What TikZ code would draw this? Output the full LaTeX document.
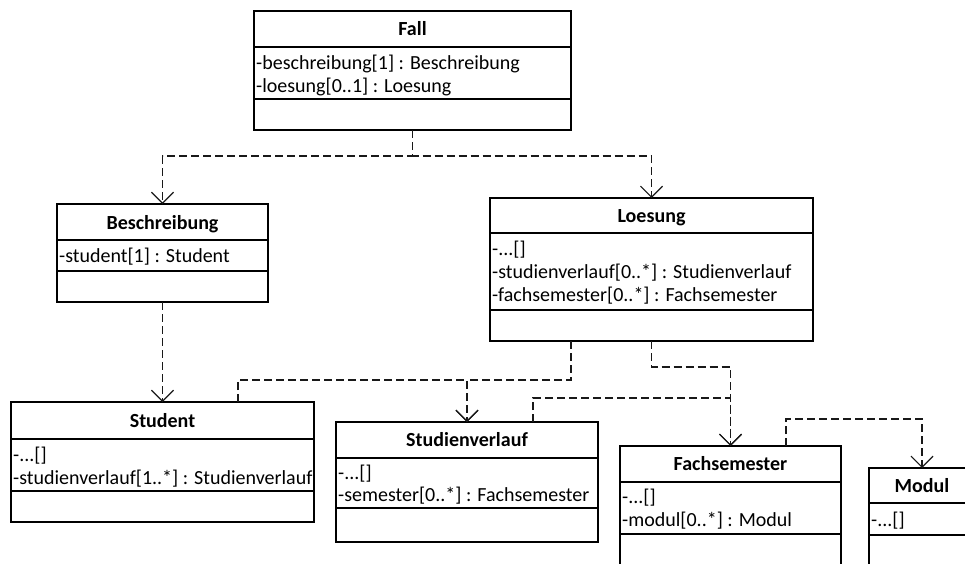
\documentclass[tikz,border=0pt]{standalone}
\usepackage{fontspec}
\setmainfont{Carlito}
\usetikzlibrary{arrows.meta}

\tikzset{
  classbox/.style={draw=black, line width=1.6pt, inner sep=0pt, outer sep=0pt,
    anchor=north west, fill=white},
  divider/.style={draw=black, line width=1.6pt},
  classtitle/.style={font=\fontsize{20}{24}\selectfont\bfseries, anchor=base, inner sep=0pt},
  attr/.style={font=\fontsize{20}{24}\selectfont, anchor=base west, inner sep=0pt},
  link/.style={draw=black!90, line width=1.25pt, dash pattern=on 8pt off 4pt},
  dep/.style={link, -{Straight Barb[length=11pt,width=22pt,line width=1.2pt]}}
}

\begin{document}
\begin{tikzpicture}[x=1pt,y=-1pt]
  \useasboundingbox (0,0) rectangle (965,563);
  \fill[white] (0,0) rectangle (965,563);
  \clip (0,0) rectangle (965,563);

  % class boxes
  \node[classbox, minimum width=317pt, minimum height=119pt] (fall) at (254,11) {};
  \node[classbox, minimum width=211pt, minimum height=98pt] (beschreibung) at (57,204) {};
  \node[classbox, minimum width=323pt, minimum height=143pt] (loesung) at (490,198) {};
  \node[classbox, minimum width=303pt, minimum height=120pt] (student) at (11,402) {};
  \node[classbox, minimum width=262pt, minimum height=120pt] (studienverlauf) at (336,422) {};
  \node[classbox, minimum width=221pt, minimum height=122pt] (fachsemester) at (620,446) {};
  \node[classbox, minimum width=106pt, minimum height=100pt] (modul) at (869,468) {};

  % compartment dividers
  \foreach \n/\a/\b in {fall/36/88, beschreibung/36/67, loesung/35/112,
                        student/37/89, studienverlauf/36/86,
                        fachsemester/36/88, modul/35/67}{
    \draw[divider] ([yshift=-\a pt]\n.north west) -- ([yshift=-\a pt]\n.north east);
    \draw[divider] ([yshift=-\b pt]\n.north west) -- ([yshift=-\b pt]\n.north east);
  }

  % class names
  \node[classtitle] (fall-t) at (412.5,35) {Fall};
  \node[classtitle] (beschreibung-t) at (162.5,229) {Beschreibung};
  \node[classtitle] (loesung-t) at (651.5,222) {Loesung};
  \node[classtitle] (student-t) at (162.5,427) {Student};
  \node[classtitle] (studienverlauf-t) at (467,446) {Studienverlauf};
  \node[classtitle] (fachsemester-t) at (730.5,470) {Fachsemester};
  \node[classtitle] (modul-t) at (922,492) {Modul};

  % attributes
  \node[attr] (fall-a1) at (256,69) {-beschreibung[1] : Beschreibung};
  \node[attr] (fall-a2) at (256,92) {-loesung[0..1] : Loesung};
  \node[attr] (beschreibung-a1) at (59,262) {-student[1] : Student};
  \node[attr] (loesung-a1) at (492,255) {-...[]};
  \node[attr] (loesung-a2) at (492,278) {-studienverlauf[0..*] : Studienverlauf};
  \node[attr] (loesung-a3) at (492,301) {-fachsemester[0..*] : Fachsemester};
  \node[attr] (student-a1) at (13,461) {-...[]};
  \node[attr] (student-a2) at (13,484) {-studienverlauf[1..*] : Studienverlauf};
  \node[attr] (studienverlauf-a1) at (338,479) {-...[]};
  \node[attr] (studienverlauf-a2) at (338,501) {-semester[0..*] : Fachsemester};
  \node[attr] (fachsemester-a1) at (622,503) {-...[]};
  \node[attr] (fachsemester-a2) at (622,526) {-modul[0..*] : Modul};
  \node[attr] (modul-a1) at (871,526) {-...[]};

  % dependencies
  \draw[dep] (fall.south) -- ++(0,26) -| (beschreibung.north);
  \draw[dep] (fall.south) -- ++(0,26) -| (loesung.north);
  \draw[dep] (beschreibung.south) -- (student.north);
  \draw[dep] ([xshift=81pt]loesung.south west) -- ++(0,39) -| (studienverlauf.north);
  \draw[dep] ([xshift=-76pt]student.north east) -- ++(0,-22) -| (studienverlauf.north);
  \draw[dep] (loesung.south) -- ++(0,26) -| (fachsemester.north);
  \draw[dep] ([xshift=-65pt]studienverlauf.north east) -- ++(0,-24) -| (fachsemester.north);
  \draw[dep] ([xshift=-55pt]fachsemester.north east) -- ++(0,-27) -| (modul.north);
\end{tikzpicture}
\end{document}
